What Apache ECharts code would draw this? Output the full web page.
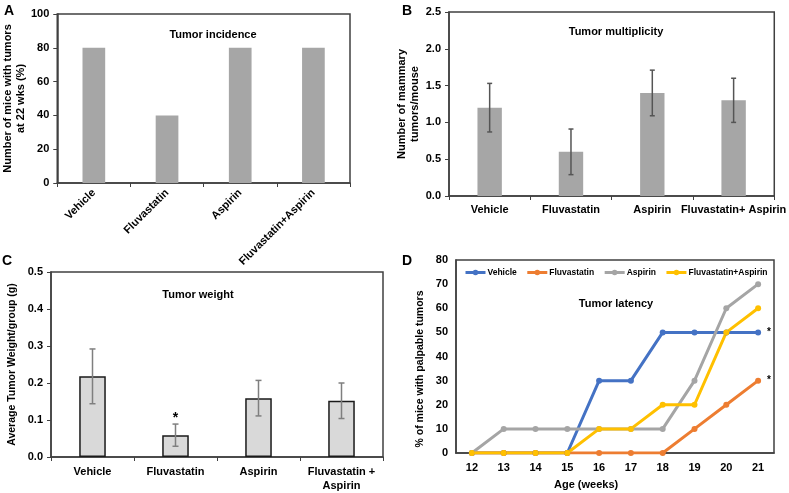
<!DOCTYPE html>
<html>
<head>
<meta charset="utf-8">
<script src="https://cdn.jsdelivr.net/npm/echarts@6/dist/echarts.min.js"></script>
<style>html,body{margin:0;padding:0;background:#fff}#c{width:789px;height:493px}</style>
</head>
<body>
<div id="c"></div>
<script>
// ---- Data ----
const catsA = ['Vehicle', 'Fluvastatin', 'Aspirin', 'Fluvastatin+Aspirin'];
const incidence = [80, 40, 80, 80];

const catsB = ['Vehicle', 'Fluvastatin', 'Aspirin', 'Fluvastatin+ Aspirin'];
const multiplicity = [1.2, 0.6, 1.4, 1.3];
const multiplicityErr = [0.33, 0.31, 0.31, 0.3];

const catsC = ['Vehicle', 'Fluvastatin', 'Aspirin', 'Fluvastatin +\nAspirin'];
const weight = [0.218, 0.059, 0.159, 0.152];
const weightErr = [0.074, 0.03, 0.048, 0.048];
const weightMarks = ['', '*', '', ''];

const ages = ['12', '13', '14', '15', '16', '17', '18', '19', '20', '21'];
const latVehicle = [0, 0, 0, 0, 30, 30, 50, 50, 50, 50];
const latFluva = [0, 0, 0, 0, 0, 0, 0, 10, 20, 30];
const latAspirin = [0, 10, 10, 10, 10, 10, 10, 30, 60, 70];
const latCombo = [0, 0, 0, 0, 10, 10, 20, 20, 50, 60];
const latMarks = { Vehicle: '*', Fluvastatin: '*' };

// ---- Chart ----
const FONT = 'Liberation Sans, Arial, sans-serif';
const axisCol = '#404040';
const chart = echarts.init(document.getElementById('c'), null, { renderer: 'canvas' });

function errData(vals, errs) {
  return vals.map((v, i) => [i, v - errs[i], v + errs[i]]);
}
function errSeries(xi, vals, errs, color, cap, marks) {
  return {
    type: 'custom', xAxisIndex: xi, yAxisIndex: xi, z: 5,
    data: errData(vals, errs),
    encode: { x: 0, y: [1, 2] },
    renderItem: function (params, api) {
      const x = api.value(0);
      const lo = api.coord([x, api.value(1)]);
      const hi = api.coord([x, api.value(2)]);
      const st = { stroke: color, lineWidth: 1.5 };
      const ch = [
        { type: 'line', shape: { x1: hi[0], y1: hi[1], x2: lo[0], y2: lo[1] }, style: st },
        { type: 'line', shape: { x1: hi[0] - cap, y1: hi[1], x2: hi[0] + cap, y2: hi[1] }, style: st },
        { type: 'line', shape: { x1: lo[0] - cap, y1: lo[1], x2: lo[0] + cap, y2: lo[1] }, style: st }
      ];
      if (marks && marks[params.dataIndex]) {
        ch.push({ type: 'text', style: { text: marks[params.dataIndex], x: hi[0], y: hi[1] + 1,
          align: 'center', verticalAlign: 'bottom', font: 'bold 14px ' + FONT, fill: '#000' } });
      }
      return { type: 'group', children: ch };
    }
  };
}

const tickLbl = { color: '#000', fontFamily: FONT, fontWeight: 'bold', fontSize: 11 };

function catAxis(gi, data, extra) {
  return Object.assign({
    type: 'category', gridIndex: gi, data: data,
    axisLine: { show: true, lineStyle: { color: axisCol, width: 1.5 } },
    axisTick: { show: true, inside: false, length: 4, lineStyle: { color: axisCol } },
    axisLabel: Object.assign({ interval: 0, margin: 8 }, tickLbl),
    splitLine: { show: false }
  }, extra || {});
}
function valAxis(gi, min, max, interval, name, nameGap, fs, fmt, extra) {
  return Object.assign({
    type: 'value', gridIndex: gi, min: min, max: max, interval: interval,
    name: name, nameLocation: 'middle', nameGap: nameGap,
    nameTextStyle: { color: '#000', fontFamily: FONT, fontWeight: 'bold', fontSize: fs, lineHeight: fs + 2 },
    axisLine: { show: true, lineStyle: { color: axisCol, width: 1.5 } },
    axisTick: { show: true, inside: false, length: 4, lineStyle: { color: axisCol } },
    axisLabel: Object.assign({ margin: 8, formatter: fmt }, tickLbl),
    splitLine: { show: false }
  }, extra || {});
}

const lineColors = ['#4472c4', '#ed7d31', '#a5a5a5', '#ffc000'];
function latSeries(name, data, color) {
  return {
    type: 'line', name: name, xAxisIndex: 3, yAxisIndex: 3,
    data: data.map((v, i) => (i === data.length - 1 && latMarks[name])
      ? { value: v, label: { show: true, formatter: latMarks[name], position: 'right', distance: 6,
          color: '#000', fontFamily: FONT, fontSize: 10, fontWeight: 'bold' } }
      : v),
    lineStyle: { color: color, width: 3 },
    itemStyle: { color: color },
    symbol: 'circle', symbolSize: 6, showSymbol: true,
    emphasis: { disabled: true }
  };
}

const titleStyle = { color: '#000', fontFamily: FONT, fontWeight: 'bold', fontSize: 11 };
const option = {
  animation: false,
  backgroundColor: '#fff',
  title: [
    { text: 'Tumor incidence', left: 208, top: 24, textAlign: 'center', textStyle: titleStyle },
    { text: 'Tumor multiplicity', left: 611, top: 21, textAlign: 'center', textStyle: titleStyle },
    { text: 'Tumor weight', left: 193, top: 284, textAlign: 'center', textStyle: titleStyle },
    { text: 'Tumor latency', left: 611, top: 293, textAlign: 'center', textStyle: titleStyle }
  ],
  graphic: [
    { type: 'text', left: 4, top: 4, style: { text: 'A', font: 'bold 14px ' + FONT, fill: '#000' } },
    { type: 'text', left: 402, top: 4, style: { text: 'B', font: 'bold 14px ' + FONT, fill: '#000' } },
    { type: 'text', left: 2, top: 254, style: { text: 'C', font: 'bold 14px ' + FONT, fill: '#000' } },
    { type: 'text', left: 402, top: 254, style: { text: 'D', font: 'bold 14px ' + FONT, fill: '#000' } },
    { type: 'text', left: 554, top: 479, style: { text: 'Age (weeks)', font: 'bold 11px ' + FONT, fill: '#000' } },
    { type: 'text', x: 420, y: 369, rotation: Math.PI / 2,
      style: { text: '% of mice with palpable tumors', font: 'bold 10.5px ' + FONT, fill: '#000',
        align: 'center', verticalAlign: 'middle' } }
  ],
  legend: {
    left: 464, top: 268, padding: 0, itemWidth: 20, itemHeight: 7, itemGap: 9,
    lineStyle: { width: 3 },
    textStyle: { color: '#000', fontFamily: FONT, fontWeight: 'bold', fontSize: 8.5, padding: [0, 0, 0, -3] },
    data: ['Vehicle', 'Fluvastatin', 'Aspirin', 'Fluvastatin+Aspirin']
  },
  grid: [
    { left: 54, top: 14, width: 296, height: 169, show: true, borderColor: axisCol, borderWidth: 1.5 },
    { left: 449, top: 12, width: 328, height: 184, show: true, borderColor: axisCol, borderWidth: 1.5 },
    { left: 51, top: 272, width: 332, height: 187, show: true, borderColor: axisCol, borderWidth: 1.5 },
    { left: 456, top: 260, width: 318, height: 193, show: true, borderColor: axisCol, borderWidth: 1.5 }
  ],
  xAxis: [
    catAxis(0, catsA, { axisLabel: Object.assign({ interval: 0, margin: 8, rotate: 45 }, tickLbl) }),
    catAxis(1, catsB),
    catAxis(2, catsC, { axisLabel: Object.assign({ interval: 0, margin: 8, lineHeight: 14 }, tickLbl) }),
    catAxis(3, ages, { axisTick: { show: false }, axisLabel: Object.assign({ interval: 0, margin: 9 }, tickLbl) })
  ],
  yAxis: [
    valAxis(0, 0, 100, 20, 'Number of mice with tumors\nat 22 wks (%)', 28, 11, v => String(v)),
    valAxis(1, 0, 2.5, 0.5, 'Number of mammary\ntumors/mouse', 28, 11, v => v.toFixed(1)),
    valAxis(2, 0, 0.5, 0.1, 'Average Tumor Weight/group (g)', 33, 10.5, v => v.toFixed(1)),
    valAxis(3, 0, 80, 10, '', 30, 10.5, v => String(v), { axisTick: { show: false } })
  ],
  series: [
    { type: 'bar', xAxisIndex: 0, yAxisIndex: 0, data: incidence, barWidth: '31%',
      itemStyle: { color: '#a6a6a6' }, emphasis: { disabled: true } },
    { type: 'bar', xAxisIndex: 1, yAxisIndex: 1, data: multiplicity, barWidth: '30%',
      itemStyle: { color: '#a6a6a6' }, emphasis: { disabled: true } },
    errSeries(1, multiplicity, multiplicityErr, '#555555', 2.5, null),
    { type: 'bar', xAxisIndex: 2, yAxisIndex: 2, data: weight, barWidth: '32%',
      itemStyle: { color: '#d9d9d9', borderColor: '#1a1a1a', borderWidth: 1.5 }, emphasis: { disabled: true } },
    errSeries(2, weight, weightErr, '#7f7f7f', 3, weightMarks),
    latSeries('Vehicle', latVehicle, lineColors[0]),
    latSeries('Fluvastatin', latFluva, lineColors[1]),
    latSeries('Aspirin', latAspirin, lineColors[2]),
    latSeries('Fluvastatin+Aspirin', latCombo, lineColors[3])
  ]
};
chart.setOption(option);
</script>
</body>
</html>
